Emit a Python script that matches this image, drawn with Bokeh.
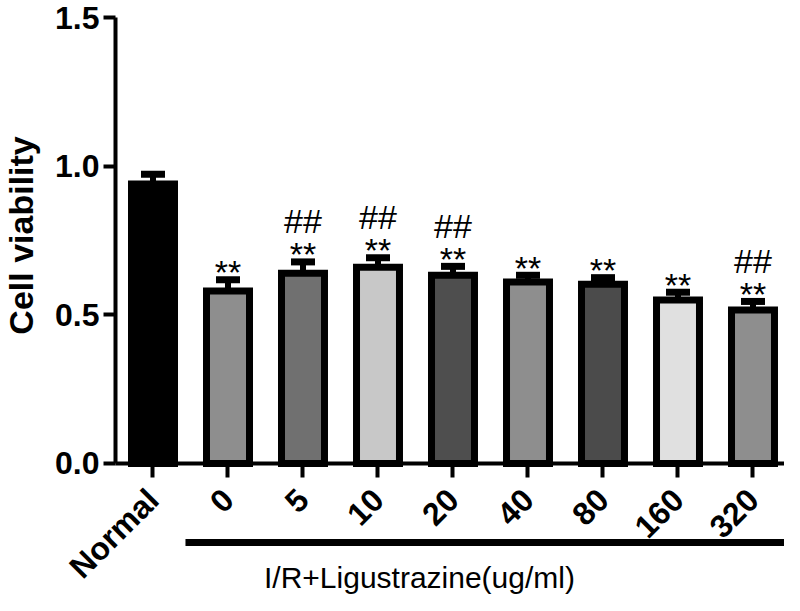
import math
from bokeh.plotting import figure
from bokeh.models import Range1d, FixedTicker, ColumnDataSource
from bokeh.core.properties import value
from bokeh.embed import file_html
from bokeh.resources import INLINE

# ---- data ----
categories = ["Normal", "0", "5", "10", "20", "40", "80", "160", "320"]
viability = [0.940, 0.580, 0.640, 0.660, 0.633, 0.610, 0.603, 0.550, 0.516]
sd = [0.033, 0.038, 0.038, 0.032, 0.030, 0.023, 0.022, 0.026, 0.029]
stars = ["", "**", "**", "**", "**", "**", "**", "**", "**"]
hashes = ["", "", "##", "##", "##", "", "", "", "##"]
fills = ["#000000", "#8e8e8e", "#707070", "#c8c8c8", "#4e4e4e",
         "#8e8e8e", "#4b4b4b", "#e0e0e0", "#8e8e8e"]
y_ticks = [0.0, 0.5, 1.0, 1.5]
y_tick_labels = ["0.0", "0.5", "1.0", "1.5"]
y_title = "Cell viability"
group_title = "I/R+Ligustrazine(ug/ml)"

W, H = 784, 595
xs = list(range(len(categories)))
X0, X1 = -2.0333, 8.42
Y0, Y1 = -0.444, 1.5572

p = figure(width=W, height=H, output_backend="svg", toolbar_location=None,
           x_range=Range1d(X0, X1), y_range=Range1d(Y0, Y1),
           min_border_left=0, min_border_right=0, min_border_top=0, min_border_bottom=0)
p.outline_line_color = None
p.xgrid.visible = False
p.ygrid.visible = False
p.background_fill_color = "white"
p.border_fill_color = "white"

# bars
err_top = [v + s for v, s in zip(viability, sd)]
src = ColumnDataSource(dict(x=xs, top=viability, fill=fills, err=err_top))
p.vbar(x="x", top="top", bottom=0, width=0.573, source=src,
       fill_color="fill", line_color="black", line_width=7, line_join="miter")

# error bars (upper half)
p.segment(x0="x", y0="top", x1="x", y1="err", source=src,
          line_color="black", line_width=6, line_cap="butt")
p.segment(x0=[x - 0.16 for x in xs], y0=err_top,
          x1=[x + 0.16 for x in xs], y1=err_top,
          line_color="black", line_width=7, line_cap="butt")

# significance marks
star_y = [e + 0.0256 for e in err_top]
hash_y = [e + 0.1366 for e in err_top]
p.text(x=xs, y=star_y, text=stars, text_align="center", text_baseline="alphabetic",
       text_font=value("Liberation Sans"), text_font_size="34px", text_color="black")
p.text(x=xs, y=hash_y, text=hashes, text_align="center", text_baseline="alphabetic",
       text_font=value("Liberation Sans"), text_font_size="34px", text_color="black")

# axes
xa = p.xaxis[0]
xa.fixed_location = 0
xa.bounds = (-0.5, X1)
xa.ticker = FixedTicker(ticks=xs)
xa.major_label_overrides = {i: c for i, c in zip(xs, categories)}
xa.major_label_orientation = math.pi / 4
xa.major_label_text_font = "Liberation Sans"
xa.major_label_text_font_style = "bold"
xa.major_label_text_font_size = "32px"
xa.major_label_text_color = "black"
xa.major_label_standoff = 17
xa.axis_line_width = 4
xa.axis_line_color = "black"
xa.major_tick_out = 14
xa.major_tick_in = 0
xa.major_tick_line_width = 4
xa.major_tick_line_color = "black"
xa.minor_tick_line_color = None

ya = p.yaxis[0]
ya.fixed_location = -0.5
ya.bounds = (0, 1.5)
ya.ticker = FixedTicker(ticks=y_ticks)
ya.major_label_overrides = {t: l for t, l in zip(y_ticks, y_tick_labels)}
ya.major_label_text_font = "Liberation Sans"
ya.major_label_text_font_style = "bold"
ya.major_label_text_font_size = "32px"
ya.major_label_text_color = "black"
ya.major_label_standoff = 4
ya.axis_line_width = 4
ya.axis_line_color = "black"
ya.major_tick_out = 12
ya.major_tick_in = 0
ya.major_tick_line_width = 4
ya.major_tick_line_color = "black"
ya.minor_tick_line_color = None

# y title
p.text(x=[-1.76], y=[0.767], text=[y_title], angle=math.pi / 2,
       text_align="center", text_baseline="middle",
       text_font=value("Liberation Sans"), text_font_style="bold",
       text_font_size="34px", text_color="black")

# group line and title
p.segment(x0=[0.433], y0=[-0.2657], x1=[X1 + 0.2], y1=[-0.2657],
          line_color="black", line_width=7, line_cap="butt")
p.text(x=[3.553], y=[-0.4373], text=[group_title], text_align="center",
       text_baseline="bottom", text_font=value("Liberation Sans"),
       text_font_size="30px", text_color="black")

open("out.html", "w").write(file_html(p, INLINE))
